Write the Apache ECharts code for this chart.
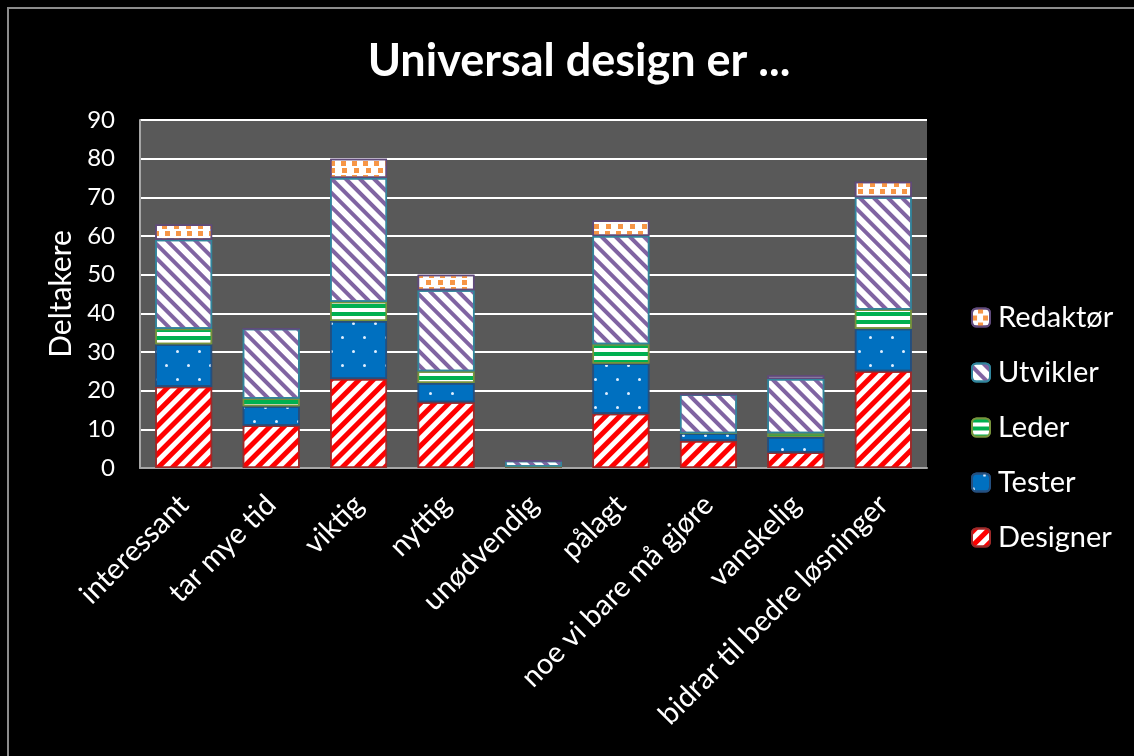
<!DOCTYPE html>
<html>
<head>
<meta charset="utf-8">
<title>Universal design er ...</title>
<script src="https://cdn.jsdelivr.net/npm/echarts@6/dist/echarts.min.js"></script>
<style>
  html, body { margin: 0; padding: 0; background: #000; }
  #chart { width: 1134px; height: 756px; }
</style>
</head>
<body>
<div id="chart"></div>
<script>
// Survey answers: how many participants in each role picked each statement
const categories = ['interessant', 'tar mye tid', 'viktig', 'nyttig', 'unødvendig',
  'pålagt', 'noe vi bare må gjøre', 'vanskelig', 'bidrar til bedre løsninger'];
const designer = [21, 11, 23, 17, 0.4, 14, 7, 4, 25];
const tester   = [11, 5, 15, 5, 0, 13, 2, 4, 11];
const leder    = [4, 2, 5, 3, 0, 5, 0, 1, 5];
const utvikler = [23, 18, 32, 21, 1.5, 28, 10, 14, 29];
const redaktor = [4, 0, 5, 4, 0, 4, 0, 1, 4];
const yTicks = [0, 10, 20, 30, 40, 50, 60, 70, 80, 90];

const FONT = 'Lato';

// Hatched fills for each role
const stripes = (color, width, gap, rotation) => ({
  symbol: 'rect', symbolSize: 1, color: color,
  dashArrayX: [1, 0], dashArrayY: [width, gap], rotation: rotation
});

const roles = [
  { name: 'Designer', data: designer, fill: '#ffffff', border: '#9c2a2a',
    decal: stripes('#ff0000', 5, 5, -Math.PI / 4) },
  { name: 'Tester', data: tester, fill: '#0070c0', border: '#254f7e',
    decal: { symbol: 'circle', symbolSize: 1, color: '#dfefff',
             dashArrayX: [[3, 18.5], [0, 10.5, 3, 8]], dashArrayY: [3, 11], rotation: 0 } },
  { name: 'Leder', data: leder, fill: '#ffffff', border: '#77933c',
    decal: stripes('#00b050', 4, 4, 0) },
  { name: 'Utvikler', data: utvikler, fill: '#ffffff', border: '#31859c',
    decal: stripes('#8064a2', 4, 6, Math.PI / 4) },
  { name: 'Redaktør', data: redaktor, fill: '#ffffff', border: '#604a7b',
    decal: { symbol: 'rect', symbolSize: 1, color: '#f79646',
             dashArrayX: [[5, 6], [0, 5.5, 5, 0.5]], dashArrayY: [5, 2], rotation: 0 } }
];

const chart = echarts.init(document.getElementById('chart'), null, { renderer: 'canvas' });

chart.setOption({
  backgroundColor: '#000000',
  animation: false,
  textStyle: { fontFamily: FONT },
  title: {
    text: 'Universal design er ...',
    left: 574, top: 34, textAlign: 'center',
    textStyle: { color: '#ffffff', fontFamily: FONT, fontWeight: 'bold', fontSize: 45 }
  },
  graphic: [{
    type: 'rect', silent: true, z: -1,
    shape: { x: 8, y: 8, width: 1200, height: 800 },
    style: { fill: null, stroke: '#8c8c8c', lineWidth: 2 }
  }],
  legend: {
    data: ['Redaktør', 'Utvikler', 'Leder', 'Tester', 'Designer'],
    orient: 'vertical', left: 966, top: 298,
    itemWidth: 18, itemHeight: 18, itemGap: 26,
    textStyle: { color: '#ffffff', fontFamily: FONT, fontSize: 29, padding: [0, 0, 0, 3] }
  },
  grid: {
    left: 140, right: 207, top: 120, bottom: 288,
    show: true, backgroundColor: '#595959', borderWidth: 0
  },
  xAxis: {
    type: 'category',
    data: categories,
    axisLine: { show: true, lineStyle: { color: '#a6a6a6', width: 2 } },
    axisTick: { show: false },
    axisLabel: { color: '#ffffff', fontFamily: FONT, fontSize: 29, rotate: 45, margin: 32, interval: 0 }
  },
  yAxis: {
    type: 'value',
    min: yTicks[0], max: yTicks[yTicks.length - 1], interval: 10,
    name: 'Deltakere', nameLocation: 'middle', nameRotate: 90, nameGap: 62,
    nameTextStyle: { color: '#ffffff', fontFamily: FONT, fontSize: 30 },
    axisLine: { show: true, lineStyle: { color: '#a6a6a6', width: 2 } },
    axisTick: { show: false },
    axisLabel: { color: '#ffffff', fontFamily: FONT, fontSize: 24, margin: 25 },
    splitLine: { show: true, lineStyle: { color: '#ffffff', width: 2 } }
  },
  series: roles.map(r => ({
    name: r.name,
    type: 'bar',
    stack: 'total',
    barWidth: '65%',
    data: r.data,
    itemStyle: { color: r.fill, borderColor: r.border, borderWidth: 1.5, decal: r.decal }
  }))
});
</script>
</body>
</html>
